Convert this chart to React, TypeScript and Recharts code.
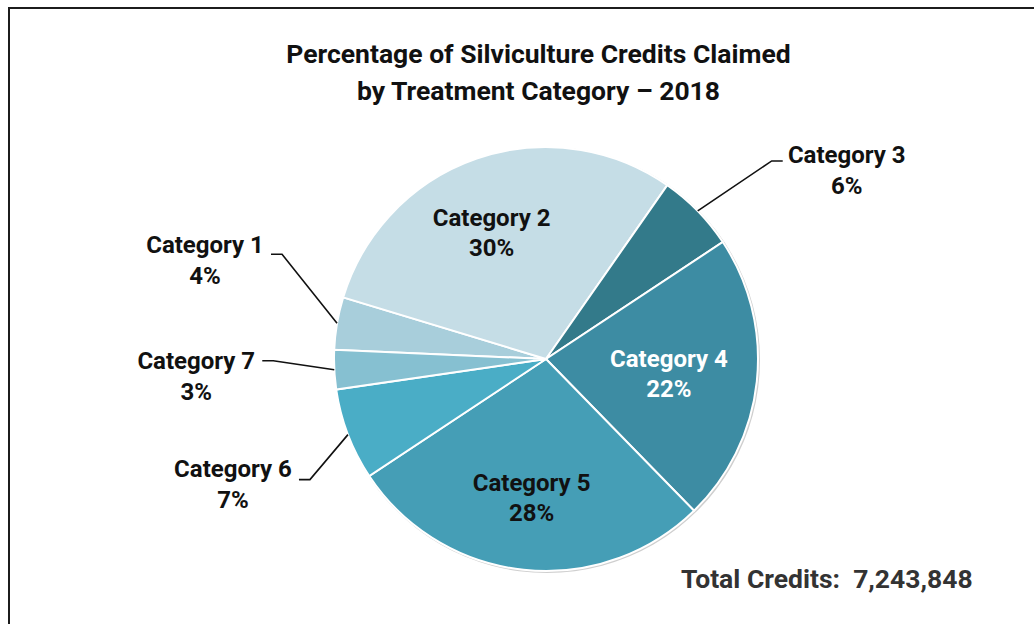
import { PieChart, Pie, Cell } from 'recharts';

const categories = ['Category 1', 'Category 2', 'Category 3', 'Category 4', 'Category 5', 'Category 6', 'Category 7'];
const shares = [4, 30, 6, 22, 28, 7, 3];
const colors = ['#a8cedb', '#c5dde6', '#337a8a', '#3d8ca3', '#459eb6', '#4aadc6', '#86c0d1'];
const titleLines = ['Percentage of Silviculture Credits Claimed', 'by Treatment Category \u2013 2018'];
const totalCredits = '7,243,848';

const data = categories.map((name, i) => ({ name, value: shares[i] }));

// slices labelled inside vs. pulled out with a leader line
const inside: Record<string, { dx: number; dy: number }> = {
  'Category 2': { dx: -10, dy: 1 },
  'Category 4': { dx: -12, dy: 0 },
  'Category 5': { dx: 0, dy: 3 },
};
const leader: Record<string, { dx: number; dy: number; side: number; dyText: number }> = {
  'Category 1': { dx: -55, dy: -69, side: -1, dyText: -1 },
  'Category 3': { dx: 74, dy: -50, side: 1, dyText: 2 },
  'Category 6': { dx: -38, dy: 45, side: -1, dyText: -3 },
  'Category 7': { dx: -61, dy: -9, side: -1, dyText: 8 },
};

const RAD = Math.PI / 180;
const font = 'Roboto, "Open Sans", sans-serif';

const renderLabel = (props: any) => {
  const { cx, cy, midAngle, outerRadius, name, value } = props;
  const cos = Math.cos(-midAngle * RAD);
  const sin = Math.sin(-midAngle * RAD);
  if (inside[name]) {
    const r = outerRadius * 0.64;
    const x = cx + r * cos + inside[name].dx;
    const y = cy + r * sin + inside[name].dy;
    return (
      <text x={x} y={y} textAnchor="middle" fontFamily={font} fontWeight={700} fontSize={24}
        fill={name === 'Category 4' ? '#ffffff' : '#111111'}>
        <tspan x={x} dy={-6}>{name}</tspan>
        <tspan x={x} dy={30}>{value}%</tspan>
      </text>
    );
  }
  const l = leader[name];
  const sx = cx + outerRadius * cos;
  const sy = cy + outerRadius * sin;
  const mx = sx + l.dx;
  const my = sy + l.dy;
  const ex = mx + l.side * 11;
  const tx = ex + l.side * (l.side < 0 ? 66 : 64);
  return (
    <g>
      <polyline points={`${sx},${sy} ${mx},${my} ${ex},${my}`} fill="none" stroke="#111" strokeWidth={1.6} />
      <text x={tx} y={my + l.dyText} textAnchor="middle" fontFamily={font} fontWeight={700} fontSize={24} fill="#111111">
        <tspan x={tx} dy={0}>{name}</tspan>
        <tspan x={tx} dy={31}>{value}%</tspan>
      </text>
    </g>
  );
};

export default function App() {
  return (
    <div style={{ position: 'absolute', left: 0, top: 0, width: 1034, height: 624, overflow: 'hidden', background: '#fff' }}>
      <div style={{ position: 'absolute', left: 8, top: 7, width: 1100, height: 700, border: '2px solid #1c1c1c' }} />
      <div style={{ position: 'absolute', left: 0, top: 35, width: 1077, textAlign: 'center', fontFamily: font, fontWeight: 700, fontSize: 26.5, lineHeight: '37px', color: '#111' }}>
        {titleLines.map((t) => (
          <div key={t}>{t}</div>
        ))}
      </div>
      <div style={{ position: 'absolute', left: 0, top: 0 }}>
        <PieChart width={1034} height={624}>
          <Pie data={[{ value: 1 }]} dataKey="value" cx={542} cy={355} outerRadius={213} fill="#cfcfcf" stroke="none" isAnimationActive={false} />
          <Pie
            data={data}
            dataKey="value"
            nameKey="name"
            cx={541}
            cy={354}
            outerRadius={212}
            startAngle={177.5}
            endAngle={-182.5}
            stroke="#ffffff"
            strokeWidth={2}
            label={renderLabel}
            labelLine={false}
            isAnimationActive={false}
          >
            {data.map((d, i) => (
              <Cell key={d.name} fill={colors[i]} />
            ))}
          </Pie>
        </PieChart>
      </div>
      <div style={{ position: 'absolute', left: 681, top: 563, fontFamily: font, fontWeight: 700, fontSize: 26.5, color: '#333', whiteSpace: 'pre' }}>
        {'Total Credits:  ' + totalCredits}
      </div>
    </div>
  );
}
